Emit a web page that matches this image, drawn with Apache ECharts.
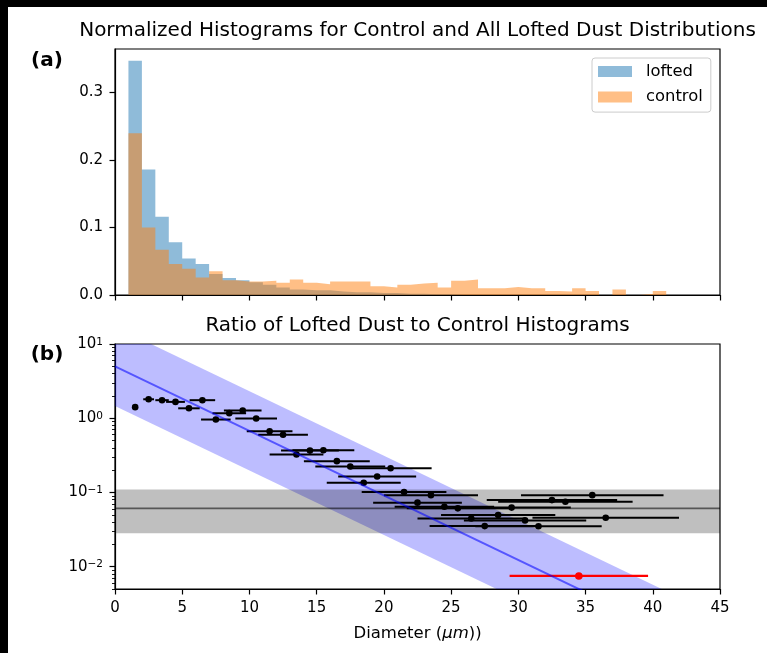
<!DOCTYPE html>
<html>
<head>
<meta charset="utf-8">
<script src="https://cdn.jsdelivr.net/npm/echarts@6/dist/echarts.min.js"></script>
<style>
html, body { margin: 0; padding: 0; background: #000; }
#chart { position: absolute; left: 8px; top: 7px; width: 759px; height: 646px; background: #fff; }
</style>
</head>
<body>
<div id="chart"></div>
<script>
/*==================== 数据 ====================*/
// (a) 归一化直方图, 每个 bin 宽 1 µm, 从 1 µm 开始
var binLeft = [1, 2, 3, 4, 5, 6, 7, 8, 9, 10, 11, 12, 13, 14, 15, 16, 17, 18, 19, 20,
    21, 22, 23, 24, 25, 26, 27, 28, 29, 30, 31, 32, 33, 34, 35, 36, 37, 38, 39, 40];
var binWidth = 1;
var lofted = [0.347, 0.186, 0.116, 0.078, 0.054, 0.046, 0.031, 0.025, 0.022, 0.019,
    0.015, 0.011, 0.008, 0.007, 0.007, 0.005, 0.004, 0.004, 0.003, 0.003,
    0.002, 0.002, 0.001, 0.001, 0, 0, 0, 0, 0, 0, 0, 0, 0, 0, 0, 0, 0, 0, 0, 0];
var control = [0.2395, 0.100, 0.067, 0.046, 0.039, 0.026, 0.035, 0.022, 0.020, 0.020,
    0.021, 0.018, 0.023, 0.018, 0.016, 0.020, 0.020, 0.020, 0.013, 0.011,
    0.015, 0.017, 0.018, 0.011, 0.021, 0.023, 0.010, 0.010, 0.012, 0.010,
    0.010, 0.006, 0.005, 0.010, 0.006, 0, 0.008, 0, 0.0015, 0.006];
var histTicks = [0, 0.1, 0.2, 0.3];

// (b) 比值 + x 方向误差棒
var ratioX = [1.5, 2.5, 3.5, 4.5, 5.5, 6.5, 7.5, 8.5, 9.5, 10.5,
    11.5, 12.5, 13.5, 14.5, 15.5, 16.5, 17.5, 18.5, 19.5, 20.5,
    21.5, 22.5, 23.5, 24.5, 25.5, 26.5, 27.5, 28.5, 29.5, 30.5,
    31.5, 32.5, 33.5, 35.5, 36.5];
var ratioY = [1.41, 1.80, 1.75, 1.66, 1.36, 1.75, 0.96, 1.17, 1.27, 0.99,
    0.665, 0.60, 0.324, 0.366, 0.37, 0.264, 0.224, 0.135, 0.164, 0.212,
    0.101, 0.0728, 0.092, 0.064, 0.061, 0.0446, 0.0352, 0.0497, 0.0625, 0.042,
    0.035, 0.0789, 0.075, 0.092, 0.0457];
var ratioErr = [0.2, 0.4, 0.5, 0.7, 0.8, 0.95, 1.1, 1.25, 1.4, 1.55,
    1.7, 1.85, 2.0, 2.15, 2.3, 2.45, 2.6, 2.75, 2.9, 3.05,
    3.15, 3.3, 3.5, 3.7, 3.8, 4.0, 4.1, 4.25, 4.4, 4.55,
    4.7, 4.85, 5.0, 5.3, 5.45];
var outlierX = [34.5];
var outlierY = [0.0075];
var outlierErr = [5.15];

// 拟合线和置信带 (两端点)
var fitX = [0, 45];
var fitY = [5.0, 0.00061];
var fitUpper = [17.1, 0.0021];
var fitLower = [1.46, 0.00018];

// 背景水平线和灰带
var bgX = [0, 45];
var bgLevel = 0.061;
var bgLow = 0.0282;
var bgHigh = 0.1096;

var logTicks = [-2, -1, 0, 1];

/*==================== 工具 ====================*/
var FONT = 'DejaVu Sans';
var lg = function (v) { return Math.log10(v); };

// 对数轴的次刻度 2..9 x 10^n
var minorTicks = [];
for (var n = -3; n <= 0; n++) {
    for (var k = 2; k <= 9; k++) {
        var t = lg(k * Math.pow(10, n));
        if (t >= lg(0.005) && t <= 1) minorTicks.push(t);
    }
}

// 直方图: 阶梯面积
function histSeries(name, values, color) {
    var pts = binLeft.map(function (x, i) { return [x, values[i]]; });
    pts.push([binLeft[binLeft.length - 1] + binWidth, values[values.length - 1]]);
    return {
        name: name, type: 'line', xAxisIndex: 0, yAxisIndex: 0,
        step: 'end', symbol: 'none', silent: true,
        itemStyle: { color: color },
        lineStyle: { width: 0, opacity: 0 },
        areaStyle: { color: color, opacity: 1 },
        data: pts
    };
}

// 两条线之间的带子
function bandSeries(xs, lo, hi, color) {
    return {
        type: 'custom', xAxisIndex: 1, yAxisIndex: 1, clip: true, silent: true,
        data: xs.map(function (x, i) { return [x, lg(lo[i]), lg(hi[i])]; }),
        encode: { x: 0, y: [1, 2] },
        renderItem: function (params, api) {
            if (params.dataIndex !== 0) return null; // 一次画完整个带
            var top = [], bottom = [];
            for (var i = 0; i < xs.length; i++) {
                top.push(api.coord([xs[i], lg(hi[i])]));
                bottom.unshift(api.coord([xs[i], lg(lo[i])]));
            }
            return { type: 'polygon', shape: { points: top.concat(bottom) }, style: { fill: color } };
        }
    };
}

// 误差棒 + 点
function errSeries(xs, ys, errs, color, r, w) {
    return {
        type: 'custom', xAxisIndex: 1, yAxisIndex: 1, silent: true,
        data: xs.map(function (x, i) { return [x, lg(ys[i]), errs[i]]; }),
        encode: { x: 0, y: 1 },
        renderItem: function (params, api) {
            var x = api.value(0), y = api.value(1), e = api.value(2);
            var l = api.coord([x - e, y]), rr = api.coord([x + e, y]), c = api.coord([x, y]);
            return {
                type: 'group', children: [
                    { type: 'line', shape: { x1: l[0], y1: l[1], x2: rr[0], y2: rr[1] }, style: { stroke: color, lineWidth: w } },
                    { type: 'circle', shape: { cx: c[0], cy: c[1], r: r }, style: { fill: color } }
                ]
            };
        }
    };
}

/*==================== 图表 ====================*/
var myChart = echarts.init(document.getElementById('chart'));
var option = {
    animation: false,
    backgroundColor: '#fff',
    grid: [
        { left: 107, top: 42, width: 605, height: 246, show: true, borderColor: '#000', borderWidth: 1.2, backgroundColor: 'transparent' },
        { left: 107, top: 337, width: 605, height: 245, show: true, borderColor: '#000', borderWidth: 1.2, backgroundColor: 'transparent' }
    ],
    legend: {
        orient: 'vertical', left: 584, top: 51,
        padding: [5.5, 8, 7, 6], itemGap: 9.6, itemWidth: 34, itemHeight: 11,
        backgroundColor: 'rgba(255,255,255,0.8)', borderColor: '#cccccc', borderWidth: 1, borderRadius: 3,
        textStyle: { color: '#000', fontSize: 16.4, fontFamily: FONT, padding: [0, 0, 0, 9] },
        data: [{ name: 'lofted', icon: 'rect' }, { name: 'control', icon: 'rect' }]
    },
    xAxis: [
        {
            type: 'value', gridIndex: 0, min: 0, max: 45, interval: 5,
            axisLine: { onZero: false, lineStyle: { color: '#000', width: 1.2 } },
            axisTick: { length: 5.5, lineStyle: { color: '#000', width: 1.2 } },
            axisLabel: { show: false },
            splitLine: { show: false }
        },
        {
            type: 'value', gridIndex: 1, min: 0, max: 45, interval: 5,
            name: 'Diameter ({it|μm}))', nameLocation: 'middle', nameGap: 36,
            nameTextStyle: {
                color: '#000', fontSize: 16.5, fontFamily: FONT,
                rich: { it: { fontStyle: 'italic', fontSize: 16.5, fontFamily: FONT, color: '#000' } }
            },
            axisLine: { onZero: false, lineStyle: { color: '#000', width: 1.2 } },
            axisTick: { length: 5.5, lineStyle: { color: '#000', width: 1.2 } },
            axisLabel: { margin: 12, color: '#000', fontSize: 15, fontFamily: FONT },
            splitLine: { show: false }
        }
    ],
    yAxis: [
        {
            type: 'value', gridIndex: 0, min: 0, max: 0.3644,
            axisLine: { show: true, onZero: false, lineStyle: { color: '#000', width: 1.2 } },
            axisTick: { show: true, length: 5.5, customValues: histTicks, lineStyle: { color: '#000', width: 1.2 } },
            axisLabel: {
                margin: 12, color: '#000', fontSize: 15, fontFamily: FONT, customValues: histTicks,
                formatter: function (v) { return v.toFixed(1); }
            },
            splitLine: { show: false }
        },
        {
            type: 'value', gridIndex: 1, min: lg(0.005), max: 1, position: 'left',
            axisLine: { show: true, onZero: false, lineStyle: { color: '#000', width: 1.2 } },
            axisTick: { show: true, length: 5.5, customValues: logTicks, lineStyle: { color: '#000', width: 1.2 } },
            axisLabel: {
                margin: 12, customValues: logTicks,
                formatter: function (v) {
                    var p = Math.round(v);
                    return '{b|10}{s|' + (p < 0 ? '\u2212' + (-p) : p) + '}';
                },
                rich: {
                    b: { color: '#000', fontSize: 15, fontFamily: FONT, lineHeight: 15, verticalAlign: 'bottom' },
                    s: { color: '#000', fontSize: 10.5, fontFamily: FONT, lineHeight: 11, verticalAlign: 'top', padding: [0, 0, 8, 0] }
                }
            },
            splitLine: { show: false }
        },
        {
            // 次刻度: 放在右侧再平移回左边, 刻度朝内即朝左
            type: 'value', gridIndex: 1, min: lg(0.005), max: 1, position: 'right', offset: -605,
            axisLine: { show: false, onZero: false },
            axisTick: { show: true, inside: true, length: 3, customValues: minorTicks, lineStyle: { color: '#000', width: 0.9 } },
            axisLabel: { show: false },
            splitLine: { show: false }
        }
    ],
    graphic: [
        { type: 'text', x: 409.5, y: 24, style: { text: 'Normalized Histograms for Control and All Lofted Dust Distributions', fontSize: 20, fontFamily: FONT, fill: '#000', textAlign: 'center', textVerticalAlign: 'middle' } },
        { type: 'text', x: 409.5, y: 319, style: { text: 'Ratio of Lofted Dust to Control Histograms', fontSize: 20, fontFamily: FONT, fill: '#000', textAlign: 'center', textVerticalAlign: 'middle' } },
        { type: 'text', x: 39, y: 54, style: { text: '(a)', fontSize: 20, fontWeight: 'bold', fontFamily: FONT, fill: '#000', textAlign: 'center', textVerticalAlign: 'middle' } },
        { type: 'text', x: 39, y: 348, style: { text: '(b)', fontSize: 20, fontWeight: 'bold', fontFamily: FONT, fill: '#000', textAlign: 'center', textVerticalAlign: 'middle' } }
    ],
    series: [
        histSeries('lofted', lofted, 'rgba(31,119,180,0.5)'),
        histSeries('control', control, 'rgba(255,127,14,0.5)'),

        bandSeries(fitX, fitLower, fitUpper, 'rgba(0,0,255,0.26)'),
        bandSeries(bgX, [bgLow, bgLow], [bgHigh, bgHigh], 'rgba(0,0,0,0.25)'),
        {
            type: 'line', xAxisIndex: 1, yAxisIndex: 1, symbol: 'none', silent: true,
            lineStyle: { color: 'rgba(0,0,0,0.55)', width: 1.8 },
            data: bgX.map(function (x) { return [x, lg(bgLevel)]; })
        },
        {
            type: 'line', xAxisIndex: 1, yAxisIndex: 1, symbol: 'none', silent: true,
            lineStyle: { color: 'rgba(0,0,255,0.55)', width: 2 },
            data: fitX.map(function (x, i) { return [x, lg(fitY[i])]; })
        },
        errSeries(ratioX, ratioY, ratioErr, '#000', 3.3, 2),
        errSeries(outlierX, outlierY, outlierErr, '#ff0000', 3.8, 2.2)
    ]
};
myChart.setOption(option);
</script>
</body>
</html>
